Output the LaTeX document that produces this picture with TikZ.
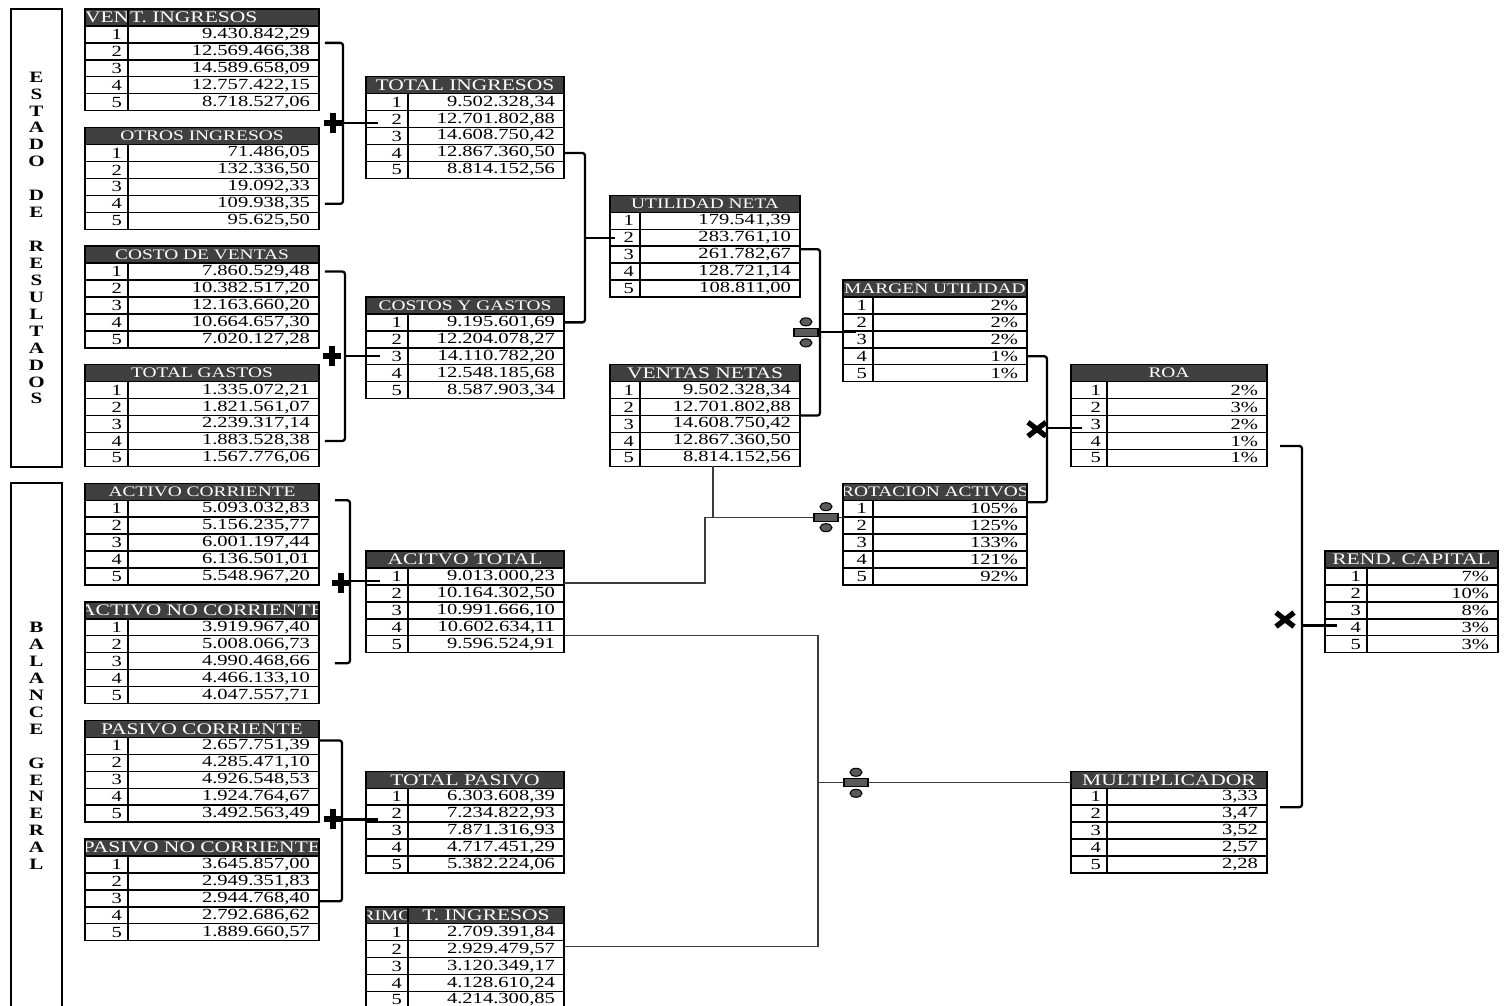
\documentclass[tikz,border=0pt]{standalone}
\usepackage{fontspec}
\setmainfont{Liberation Serif}[FakeStretch=1.33]
\usetikzlibrary{calc}
\definecolor{cabgris}{RGB}{64,64,64}
\definecolor{divgris}{RGB}{90,90,90}
\definecolor{lineagris}{RGB}{60,60,60}
\newcommand{\pxu}{0.02cm}
\newcommand{\fh}{16.94}
\pgfmathsetlengthmacro{\altofila}{16.94*0.02cm}
\newcommand{\celda}{\fontsize{8.8}{10}\selectfont}
\newcommand{\cabg}{\fontsize{9.2}{10}\selectfont}
\newcommand{\cabp}{\fontsize{8.3}{10}\selectfont}
\newcommand{\letra}{\fontsize{9}{9.64}\selectfont\bfseries}

\tikzset{
  cab/.style={draw=black, fill=cabgris, line width=0.8pt, minimum height=\altofila, inner sep=0pt, outer sep=0pt, anchor=north west},
  etiq/.style={draw=none, fill=none, text=white, inner sep=0pt, outer sep=0pt, minimum width=0pt, minimum height=0pt, anchor=center},
  numc/.style={draw=black, line width=0.8pt, minimum height=\altofila, inner ysep=0pt, inner xsep=3.41pt, outer sep=0pt, align=right, anchor=north west, font=\celda},
  valc/.style={draw=black, line width=0.8pt, minimum height=\altofila, inner ysep=0pt, inner xsep=5.12pt, outer sep=0pt, align=right, anchor=north west, font=\celda},
  marco/.style={draw=black, line width=0.8pt, inner sep=0pt, outer sep=0pt, anchor=north west},
  llave/.style={draw=black, line width=1.3pt, rounded corners=1.5pt},
  fina/.style={draw=lineagris, line width=0.7pt},
  mas/.pic={\fill (-9,-3) rectangle (9,3); \fill (-3,-10) rectangle (3,10);},
  por/.pic={\draw[line width=3pt] (-9,-7) -- (9,7) (-9,7) -- (9,-7);},
  div/.pic={\filldraw[fill=divgris, line width=0.6pt] (-12,-4) rectangle (12,4);
            \filldraw[fill=divgris, line width=0.6pt] (0,-10.5) ellipse (6 and 4);
            \filldraw[fill=divgris, line width=0.6pt] (0,10.5) ellipse (6 and 4);}
}

% #1 nombre, #2 x, #3 fila, #4 ancho num, #5 ancho valor, #6 titulo, #7 valores
\newcommand{\tabla}[7]{%
  \pgfmathsetlengthmacro{\anchotab}{(#4+#5)*0.02cm}%
  \pgfmathsetlengthmacro{\textonum}{(#4-12)*0.02cm}%
  \pgfmathsetlengthmacro{\textoval}{(#5-18)*0.02cm}%
  \node[cab, minimum width=\anchotab, path picture={\node[etiq] at (path picture bounding box.center) {#6};}] (#1-h) at (#2,{9+#3*\fh}) {};
  \foreach \v [count=\i] in {#7} {
    \node[numc, text width=\textonum] (#1-n\i) at (#2,{9+(#3+\i)*\fh}) {\i};
    \node[valc, text width=\textoval] (#1-\i) at ({#2+#4},{9+(#3+\i)*\fh}) {\v};
  }
}

\begin{document}
\begin{tikzpicture}[x=\pxu, y=-\pxu]
\useasboundingbox (0,0) rectangle (1511,1006);

% marcos laterales
\node[marco, minimum width=1.02cm, minimum height=9.16cm] (er) at (11,9) {};
\node[font=\letra, align=center] (er-t) at (er.center) {E\\S\\T\\A\\D\\O\\[9.64pt]D\\E\\[9.64pt]R\\E\\S\\U\\L\\T\\A\\D\\O\\S};
\node[marco, minimum width=1.02cm, minimum height=10.8cm] (bg) at (11,483) {};
\node[font=\letra, align=center] (bg-t) at (36.5,746) {B\\A\\L\\A\\N\\C\\E\\[9.64pt]G\\E\\N\\E\\R\\A\\L};

% estado de resultados
\tabla{vi}{85}{0}{43}{191}{}{{9.430.842,29},{12.569.466,38},{14.589.658,09},{12.757.422,15},{8.718.527,06}}
\node[cab, minimum width=0.86cm, path picture={\node[etiq, anchor=west] at (path picture bounding box.west) {\cabg VEN};}] (vi-hl) at (85,9) {};
\node[cab, minimum width=3.82cm, path picture={\node[etiq, anchor=west] at ($(path picture bounding box.west)+(2,0)$) {\cabg T. INGRESOS};}] (vi-hr) at (128,9) {};
\tabla{oi}{85}{7}{43}{191}{\cabp OTROS INGRESOS}{{71.486,05},{132.336,50},{19.092,33},{109.938,35},{95.625,50}}
\tabla{cv}{85}{14}{43}{191}{\cabp COSTO DE VENTAS}{{7.860.529,48},{10.382.517,20},{12.163.660,20},{10.664.657,30},{7.020.127,28}}
\tabla{tg}{85}{21}{43}{191}{\cabp TOTAL GASTOS}{{1.335.072,21},{1.821.561,07},{2.239.317,14},{1.883.528,38},{1.567.776,06}}
\tabla{ti}{366}{4}{42}{156}{\cabg TOTAL INGRESOS}{{9.502.328,34},{12.701.802,88},{14.608.750,42},{12.867.360,50},{8.814.152,56}}
\tabla{cg}{366}{17}{42}{156}{\cabp COSTOS Y GASTOS}{{9.195.601,69},{12.204.078,27},{14.110.782,20},{12.548.185,68},{8.587.903,34}}
\tabla{un}{610}{11}{30}{160}{\cabp UTILIDAD NETA}{{179.541,39},{283.761,10},{261.782,67},{128.721,14},{108.811,00}}
\tabla{vn}{610}{21}{30}{160}{\cabg VENTAS NETAS}{{9.502.328,34},{12.701.802,88},{14.608.750,42},{12.867.360,50},{8.814.152,56}}

% balance general
\tabla{ac}{85}{28}{43}{191}{\cabp ACTIVO CORRIENTE}{{5.093.032,83},{5.156.235,77},{6.001.197,44},{6.136.501,01},{5.548.967,20}}
\tabla{anc}{85}{35}{43}{191}{\cabg ACTIVO NO CORRIENTE}{{3.919.967,40},{5.008.066,73},{4.990.468,66},{4.466.133,10},{4.047.557,71}}
\tabla{pc}{85}{42}{43}{191}{\cabg PASIVO CORRIENTE}{{2.657.751,39},{4.285.471,10},{4.926.548,53},{1.924.764,67},{3.492.563,49}}
\tabla{pnc}{85}{49}{43}{191}{\cabg PASIVO NO CORRIENTE}{{3.645.857,00},{2.949.351,83},{2.944.768,40},{2.792.686,62},{1.889.660,57}}
\tabla{at}{366}{32}{42}{156}{\cabg ACITVO TOTAL}{{9.013.000,23},{10.164.302,50},{10.991.666,10},{10.602.634,11},{9.596.524,91}}
\tabla{tp}{366}{45}{42}{156}{\cabg TOTAL PASIVO}{{6.303.608,39},{7.234.822,93},{7.871.316,93},{4.717.451,29},{5.382.224,06}}
\tabla{pt}{366}{53}{42}{156}{}{{2.709.391,84},{2.929.479,57},{3.120.349,17},{4.128.610,24},{4.214.300,85}}
\node[cab, minimum width=0.84cm, path picture={\node[etiq] at (path picture bounding box.center) {\cabp RIMO};}] (pt-hl) at (366,{9+53*\fh}) {};
\node[cab, minimum width=3.12cm, path picture={\node[etiq] at (path picture bounding box.center) {\cabg T. INGRESOS};}] (pt-hr) at (408,{9+53*\fh}) {};

% indicadores
\tabla{mu}{843}{16}{30}{154}{\cabp MARGEN UTILIDAD}{{2\%},{2\%},{2\%},{1\%},{1\%}}
\tabla{ra}{843}{28}{30}{154}{\cabp ROTACION ACTIVOS}{{105\%},{125\%},{133\%},{121\%},{92\%}}
\tabla{roa}{1071}{21}{36}{160}{\cabp ROA}{{2\%},{3\%},{2\%},{1\%},{1\%}}
\tabla{mult}{1071}{45}{36}{160}{\cabg MULTIPLICADOR}{{3,33},{3,47},{3,52},{2,57},{2,28}}
\tabla{rc}{1325}{32}{42}{131}{\cabg REND. CAPITAL}{{7\%},{10\%},{8\%},{3\%},{3\%}}

% sumas
\draw[llave] ($(vi-1.south east)+(6,0)$) -- ++(18,0) coordinate (s1) |- ($(oi-4.east)+(6,0)$);
\coordinate (s1m) at ($(s1)!0.5!(s1 |- oi-4.east)$);
\draw[llave] (s1m) -- ($(s1m -| ti-n2.west)+(12,0)$);
\pic at ($(s1m)+(-10,0)$) {mas};

\draw[llave] ($(cv-1.east)+(6,0)$) -- ++(20,0) coordinate (s2) |- ($(tg-4.east)+(6,0)$);
\coordinate (s2m) at ($(s2)!0.5!(s2 |- tg-4.east)$);
\draw[llave] (s2m) -- ($(s2m -| cg-n3.west)+(14,0)$);
\pic at ($(s2m)+(-13,0)$) {mas};

\draw[llave] ($(ac-h.south east)+(16,0)$) -- ++(15,0) coordinate (s3) |- ($(anc-3.east)+(16,2)$);
\coordinate (s3m) at ($(s3)!0.5!(s3 |- anc-3.east)$);
\draw[llave] (s3m) -- ($(s3m -| at-n1.west)+(14,0)$);
\pic at ($(s3m)+(-9,2)$) {mas};

\draw[llave] ($(pc-h.south east)+(1,3)$) -- ++(22,0) coordinate (s4) |- ($(pnc-3.east)+(1,3)$);
\coordinate (s4m) at ($(s4)!0.5!(s4 |- pnc-3.east)$);
\draw[llave] (s4m) -- ($(s4m -| tp-n2.west)+(12,0)$);
\pic at ($(s4m)+(-9,0)$) {mas};

% utilidad neta
\draw[llave] (ti-4.east) -- ++(21,0) coordinate (r1) |- (cg-1.east);
\coordinate (r1m) at ($(r1)!0.5!(r1 |- cg-1.east)$);
\draw[llave] (r1m) -- ($(r1m -| un-n2.west)+(5,0)$);

% margen y rotacion
\draw[llave] ($(un-3.north east)+(0,3)$) -- ++(20,0) coordinate (d1) |- (vn-2.south east);
\coordinate (d1m) at ($(d1)!0.5!(d1 |- vn-2.south east)$);
\draw[llave] (d1m) -- ($(d1m -| mu-n3.west)+(13,0)$);
\pic at ($(d1m)+(-14,0)$) {div};

\draw[fina] ($(vn-5.south)+(-7,0)$) |- (ra-n1.south west) coordinate[pos=0.5] (c1);
\draw[fina] ($(at-1.south east)+(0,-2)$) -| ($(c1)+(-8,0)$) -- (c1);
\pic at ($(ra-n1.south west)+(-17,0)$) {div};

% roa y rendimiento
\draw[llave] (mu-4.east) -- ++(20,0) coordinate (p1) |- ($(ra-h.south east)+(0,2)$);
\coordinate (p1m) at ($(p1)!0.5!(p1 |- ra-h.south east)$);
\draw[llave] (p1m) -- ($(p1m -| roa-n3.west)+(11,0)$);
\pic at ($(p1m)+(-10,1)$) {por};

\draw[fina] (at-4.south east) -- ++(254,0) coordinate (c2) |- ($(pt-2.east)+(0,-3)$);
\draw[fina] ($(c2 |- mult-h.west)+(0,3)$) -- ($(mult-h.west)+(0,3)$);
\pic at ($(c2 |- mult-h.west)+(38,3)$) {div};

\draw[llave] ($(roa-4.east)+(13,5)$) -- ++(22,0) coordinate (p2) |- ($(mult-1.south east)+(13,2)$);
\coordinate (p2m) at ($(p2)!0.5!(p2 |- mult-1.south east)$);
\draw[llave] (p2m) -- ($(p2m -| rc-n4.west)+(12,0)$);
\pic at ($(p2m)+(-17,-6)$) {por};
\end{tikzpicture}
\end{document}
